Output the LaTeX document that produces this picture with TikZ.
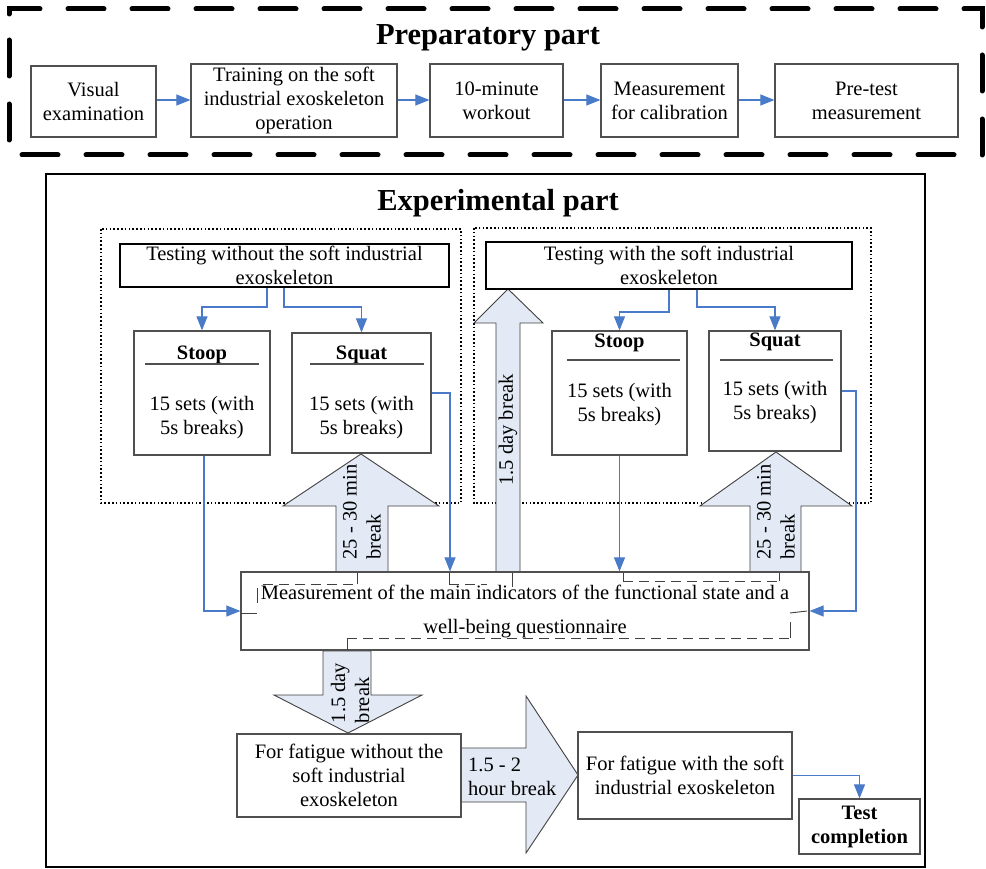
\documentclass[tikz,border=0pt]{standalone}
\usepackage{fontspec}
\setmainfont{Liberation Serif}
\usetikzlibrary{arrows.meta,calc}
\definecolor{linkblue}{HTML}{4A7BC8}
\definecolor{arrowfill}{HTML}{E3EAF6}
\definecolor{boxgray}{HTML}{505050}
\definecolor{edgegray}{HTML}{404040}
\newcommand\dgfont{\fontsize{20.5}{24}\selectfont}
\newcommand\dgtitle{\fontsize{30.5}{36}\selectfont\bfseries}
\tikzset{
  txt/.style={font=\dgfont, align=center, inner sep=0pt},
  pbox/.style={txt, draw=boxgray, line width=1.2pt},
  tbox/.style={txt, draw=black, line width=2pt},
  link/.style={draw=linkblue, line width=1.1pt, -{Triangle[length=14pt,width=11pt,fill=linkblue]}},
  bigarrow/.style={fill=arrowfill, draw=edgegray, line width=0.9pt, line join=miter},
  dotbox/.style={draw=black, line width=1.6pt, dash pattern=on 1.6pt off 2.2pt},
  glitch/.style={draw=edgegray, line width=0.9pt, dash pattern=on 10pt off 6pt},
  tick/.style={draw=edgegray, line width=0.9pt},
  rule/.style={draw=boxgray, line width=1.3pt},
  outerdash/.style={draw=black, line width=5pt, line cap=round, dash pattern=on 36pt off 28pt},
}
\begin{document}
\begin{tikzpicture}[x=1pt,y=-1pt]
\useasboundingbox (0,0) rectangle (986,869);
\fill[white] (0,0) rectangle (986,869);

% ---------------- Preparatory part ----------------
\draw[outerdash] (9,40) -- (9,155) -- (982,155) -- (982,9) -- (9,9) -- (9,40);
\node[font=\dgtitle, inner sep=0pt] (prepT) at (488,38) {Preparatory part};

\node[pbox, minimum width=125pt, minimum height=71pt] (vis) at (93.5,101.5) {Visual\\examination};
\node[pbox, minimum width=206pt, minimum height=73pt] (train) at (294,100.5) {Training on the soft\\industrial exoskeleton\\operation};
\node[pbox, minimum width=133pt, minimum height=73pt] (work) at (496.5,100.5) {10-minute\\workout};
\node[pbox, minimum width=137pt, minimum height=73pt] (calib) at (669.5,100.5) {Measurement\\for calibration};
\node[pbox, minimum width=183pt, minimum height=73pt] (pre) at (866.5,100.5) {Pre-test\\measurement};

\draw[link] (vis.east |- 0,100) -- (train.west |- 0,100);
\draw[link] (train.east |- 0,100) -- (work.west |- 0,100);
\draw[link] (work.east |- 0,100) -- (calib.west |- 0,100);
\draw[link] (calib.east |- 0,100) -- (pre.west |- 0,100);

% ---------------- Experimental part ----------------
\draw[draw=black, line width=2.2pt] (46,174) rectangle (925,867);
\node[font=\dgtitle, inner sep=0pt] (expT) at (498,203) {Experimental part};

\draw[dotbox] (101,229) rectangle (461,503);
\draw[dotbox] (474,228) rectangle (871,503);

% big block arrows (drawn first)
\draw[bigarrow] (336,573) -- (336,506) -- (283,506) -- (361,454) -- (439,506) -- (388,506) -- (388,573) -- cycle;
\draw[bigarrow] (750,573) -- (750,506) -- (700,506) -- (776,452) -- (852,506) -- (801,506) -- (801,573) -- cycle;
\draw[bigarrow] (496,573) -- (496,323) -- (474,323) -- (508,289) -- (543,323) -- (520,323) -- (520,573) -- cycle;
\draw[bigarrow] (323,651) -- (323,695) -- (274,695) -- (348,733) -- (422,695) -- (371,695) -- (371,651) -- cycle;
\draw[bigarrow] (461,748) -- (526,748) -- (526,696) -- (578,775) -- (526,853) -- (526,802) -- (461,802) -- cycle;

\node[txt, rotate=90, align=left] (lbl1) at (362,512) {25 - 30 min\\break};
\node[txt, rotate=90, align=left] (lbl2) at (776,512) {25 - 30 min\\break};
\node[txt, rotate=90] (lbl3) at (508,430) {1.5 day break};
\node[txt, rotate=90, align=left] (lbl4) at (350,693) {1.5 day\\break};
\node[txt, align=left, anchor=west] (lbl5) at (468,777) {1.5 - 2\\hour break};

% testing boxes
\node[tbox, minimum width=329pt, minimum height=43pt] (tw) at (284.5,265.5) {Testing without the soft industrial\\exoskeleton};
\node[tbox, minimum width=366pt, minimum height=47pt] (twi) at (669,265.5) {Testing with the soft industrial\\exoskeleton};

% exercise boxes
\node[pbox, fill=white, minimum width=136pt, minimum height=124pt] (stoopL) at (202,393) {};
\node[pbox, fill=white, minimum width=139pt, minimum height=120pt] (squatL) at (361.5,393) {};
\node[pbox, fill=white, minimum width=135pt, minimum height=124pt] (stoopR) at (619.5,393) {};
\node[pbox, fill=white, minimum width=132pt, minimum height=120pt] (squatR) at (775,391) {};

\node[txt, font=\dgfont\bfseries] (stoopLt) at (202,355) {Stoop};
\draw[rule] (145,364) -- (259,364);
\node[txt] (stoopLb) at (202,418) {15 sets (with\\5s breaks)};

\node[txt, font=\dgfont\bfseries] (squatLt) at (361.5,355) {Squat};
\draw[rule] (310,364) -- (424,364);
\node[txt] (squatLb) at (361.5,418) {15 sets (with\\5s breaks)};

\node[txt, font=\dgfont\bfseries] (stoopRt) at (619.5,343) {Stoop};
\draw[rule] (567,360) -- (680,360);
\node[txt] (stoopRb) at (619.5,405) {15 sets (with\\5s breaks)};

\node[txt, font=\dgfont\bfseries] (squatRt) at (775,342) {Squat};
\draw[rule] (720,360) -- (833,360);
\node[txt] (squatRb) at (775,403) {15 sets (with\\5s breaks)};

% measurement box
\node[pbox, fill=white, minimum width=568pt, minimum height=78pt, font=\fontsize{20.5}{34}\selectfont] (meas) at (525,611) {Measurement of the main indicators of the functional state and a\\well-being questionnaire};

% fatigue boxes
\node[pbox, fill=white, minimum width=224pt, minimum height=83pt] (fw) at (349,775.5) {For fatigue without the\\soft industrial\\exoskeleton};
\node[pbox, fill=white, minimum width=214pt, minimum height=87pt] (fwi) at (685,775.5) {For fatigue with the soft\\industrial exoskeleton};
\node[pbox, fill=white, minimum width=121pt, minimum height=55pt, font=\dgfont\bfseries] (tc) at (859.5,826.5) {Test\\completion};

% stray dashed outlines inside the measurement box
\draw[tick] (241,613) -- (257,613);
\draw[tick] (257,588) -- (257,603);
\draw[glitch] (263,584) -- (357,584);
\draw[tick] (357,584) -- (357,573);
\draw[tick] (449,573) -- (449,584);
\draw[glitch] (449,584) -- (487,584);
\draw[tick] (512,573) -- (512,587);
\draw[tick] (623,573) -- (623,581);
\draw[glitch] (623,581) -- (779,581);
\draw[tick] (779,581) -- (779,573);
\draw[tick] (347,650) -- (347,638);
\draw[glitch] (347,638) -- (790,638);
\draw[tick] (790,638) -- (790,622);
\draw[tick] (790,613) -- (807,611);

% connectors
\coordinate (b1) at (267,307);
\coordinate (b2) at (284,307);
\coordinate (b3) at (669,312);
\coordinate (b4) at (697,307);
\coordinate (b5) at (450,393);
\coordinate (b6) at (856,391);
\coordinate (b7) at (204,0);

\draw[link] (tw.south -| b1) |- (stoopL.north |- b1) -- (stoopL.north);
\draw[link] (tw.south -| b2) |- (squatL.north |- b2) -- (squatL.north);
\draw[link] (twi.south -| b3) |- (stoopR.north |- b3) -- (stoopR.north);
\draw[link] (twi.south -| b4) |- (squatR.north |- b4) -- (squatR.north);

\draw[link] (stoopL.south -| b7) |- (meas.west);
\draw[link] (squatL.east) -- (b5) -- (b5 |- meas.north);
\draw[link] (stoopR.south) -- (stoopR.south |- meas.north);
\draw[link] (squatR.east) -- (b6) |- (meas.east);
\draw[link] (fwi.east) -| (tc.north);
\end{tikzpicture}
\end{document}
